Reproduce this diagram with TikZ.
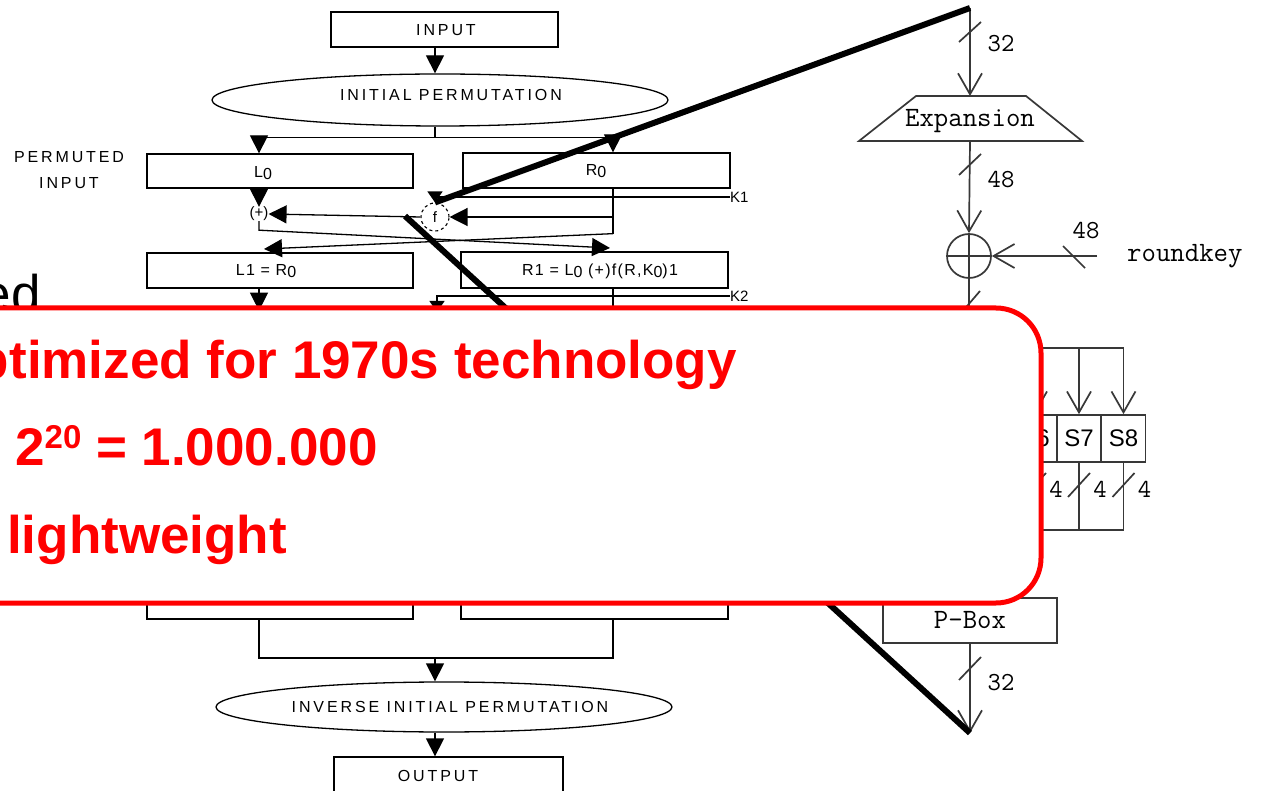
\documentclass[tikz,border=0pt]{standalone}
\usepackage{fontspec}
\setmainfont{Liberation Sans}
\newfontfamily\dfont[LetterSpace=18]{Liberation Sans}
\newfontfamily\efont[LetterSpace=8]{Liberation Sans}
\usetikzlibrary{arrows.meta,shapes.geometric}
\newcommand\lowo[1]{\raisebox{-2.5pt}{#1}}
\begin{document}
\begin{tikzpicture}[x=1pt,y=-1pt,
  lw/.style={line width=1.3pt},
  box/.style={draw,line width=1.3pt,inner sep=0pt},
  dtext/.style={font=\dfont\fontsize{16}{26}\selectfont,inner sep=0pt},
  etext/.style={font=\efont\fontsize{16}{20}\selectfont,inner sep=0pt},
  ktext/.style={font=\fontsize{15}{17}\selectfont,inner sep=0pt},
  tri/.style={line width=1.3pt,-{Triangle[width=18pt,length=18pt]}},
  trism/.style={line width=1.3pt,-{Triangle[width=15pt,length=11pt]}},
  rl/.style={draw=black!78,line width=1.7pt},
  vv/.style={rl,-{Straight Barb[length=21pt,width=24pt]}},
  mono/.style={font=\ttfamily\fontsize{28}{30}\selectfont,inner sep=0pt},
  num/.style={font=\ttfamily\fontsize{26}{28}\selectfont,inner sep=0pt},
  sbox/.style={rl,inner sep=0pt,minimum width=44pt,minimum height=47pt,font=\fontsize{24}{26}\selectfont},
  zoomline/.style={line width=6pt},
  redtxt/.style={text=red,font=\bfseries\fontsize{53}{60}\selectfont,inner sep=0pt},
]
\useasboundingbox (0,0) rectangle (1264,791);
\clip (0,0) rectangle (1264,791);
\fill[white] (0,0) rectangle (1264,791);

% ---------- guides ----------
\coordinate (cx) at (435,0);
\coordinate (lx) at (259,0);
\coordinate (rx) at (613,0);

% ---------- left flowchart ----------
\node[box,minimum width=227pt,minimum height=35pt] (in) at (444.5,29.5) {};
\node[dtext] (intxt) at (446,30) {INPUT};
\node[box,ellipse,minimum width=456pt,minimum height=52pt] (ip) at (440,100) {};
\node[dtext] (iptxt) at (451,95) {INITIAL PERMUTATION};
\draw[tri] (in.south -| cx) -- (ip.north -| cx);
\draw[lw] (ip.south -| cx) -- ++(0,11) coordinate (split);
\draw[lw] (lx |- split) -- (rx |- split);

\node[dtext,align=center] (pin) at (69,170) {PERMUTED\\INPUT};

\node[box,minimum width=266pt,minimum height=34pt] (L0) at (280,171) {};
\node[etext] (L0t) at (263,173) {L\lowo{0}};
\node[box,minimum width=267pt,minimum height=35pt] (R0) at (596.5,170.5) {};
\node[etext] (R0t) at (596,171) {R\lowo{0}};
\draw[tri] (lx |- split) -- (L0.north -| lx);
\draw[tri] (rx |- split) -- (R0.north -| rx);

\node[ktext] (plus) at (259,214) {(+)};
\node[draw,circle,dashed,line width=1.1pt,minimum size=28pt,inner sep=0pt,font=\fontsize{15}{17}\selectfont] (f) at (435,217) {f};
\draw[tri] (L0.south -| lx) -- (plus.north);
\draw[tri] (f.west) -- (plus.east);
\draw[lw] (R0.south -| rx) -- ++(0,45) coordinate (rc);
\draw[tri] (rx |- f) -- (f.east);
\node[ktext,anchor=west] (k1) at (730,197) {K1};
\draw[trism] (k1.west) -| (f.north);

\coordinate (aR) at (610,248);
\coordinate (aL) at (264,249);
\draw[tri] (plus.south) -- ++(0,9) -- (aR);
\draw[tri] (rc) -- (aL);

\node[box,minimum width=266pt,minimum height=35pt] (L1) at (280,270.5) {};
\node[etext] (L1t) at (266,271) {L1 = R\lowo{0}};
\node[box,minimum width=267pt,minimum height=36pt] (R1) at (594.5,270) {};
\node[etext] (R1t) at (600,271) {R1 = L\lowo{0} (+)f(R,K\lowo{0})1};
\draw[tri] (L1.south -| lx) -- ++(0,22);
\node[ktext,anchor=west] (k2) at (730,296) {K2};
\coordinate (k2end) at (437,312);
\draw[trism] (k2.west) -| (k2end);
\draw[lw] (R1.south -| rx) -- ++(0,30);

% bottom part
\node[box,minimum width=266pt,minimum height=40pt] (L16) at (280,599) {};
\node[box,minimum width=267pt,minimum height=40pt] (R16) at (594.5,599) {};
\coordinate (jn) at (435,658);
\draw[lw] (L16.south -| lx) -- (lx |- jn) -- (rx |- jn) -- (R16.south -| rx);
\node[box,ellipse,minimum width=456pt,minimum height=50pt] (iip) at (444,707) {};
\node[dtext] (iiptxt) at (450,707) {INVERSE INITIAL PERMUTATION};
\draw[tri] (jn) -- (iip.north -| cx);
\node[box,minimum width=229pt,minimum height=44pt] (out) at (448.5,779) {};
\node[dtext] (outtxt) at (438,776) {OUTPUT};
\draw[tri] (iip.south -| cx) -- (out.north -| cx);

% ---------- right detail ----------
\coordinate (t0) at (970,8);
\coordinate (expT) at (970,96);
\coordinate (expB) at (970,141);
\draw[rl] (916,96) -- (1026,96) -- (1082,141) -- (859,141) -- cycle;
\node[mono] (exp) at (970,121) {Expansion};
\draw[vv] (t0) -- (expT);
\draw[rl] (959,42) -- (981,22);
\node[num] (n32a) at (1001,44) {32};

\node[rl,circle,minimum size=44pt,inner sep=0pt] (xor) at (969,256) {};
\draw[rl] (xor.north) -- (xor.south) (xor.west) -- (xor.east);
\draw[vv] (expB) -- (xor.north);
\draw[rl] (959,175) -- (981,154);
\node[num] (n48a) at (1001,180) {48};
\coordinate (rkS) at (1097,256);
\draw[vv] (rkS) -- (xor.east);
\draw[rl] (1063,246) -- (1085,268);
\node[num] (n48b) at (1086,231) {48};
\node[mono,anchor=west] (rk) at (1127,256) {roundkey};
\draw[rl,line width=2.6pt] (xor.south) -- ++(0,60);
\draw[rl] (956,319) -- (980,291);

\coordinate (dist) at (1123.5,348);
\draw[rl] (800,348) -- (dist);
\node[sbox] (s6) at (1035,438.5) {S6};
\node[sbox] (s7) at (1079,438.5) {S7};
\node[sbox] (s8) at (1123.5,438.5) {S8};
\draw[vv] (s6.north |- dist) -- (s6.north);
\draw[vv] (s7.north |- dist) -- (s7.north);
\draw[vv] (dist) -- (s8.north);
\coordinate (coll) at (1123.5,530);
\draw[rl] (s8.south) -- (coll) -- (800,530);
\draw[rl] (s7.south) -- (s7.south |- coll);
\draw[rl] (s6.south) -- (s6.south |- coll);
\foreach \xx in {1035,1079,1123.5}{
  \draw[rl] (\xx-11,497) -- (\xx+11,473);
  \node[num] at (\xx+21,489) {4};
}

\node[rl,minimum width=174pt,minimum height=45pt,mono] (pbox) at (970,620.5) {P-Box};
\coordinate (pend) at (970,733);
\draw[vv] (pbox.south) -- (pend);
\draw[rl] (959,680) -- (981,657);
\node[num] (n32b) at (1001,683) {32};

% ---------- zoom lines ----------
\coordinate (zs) at (405,216);
\draw[zoomline] (t0) -- (f.north);
\draw[zoomline] (zs) -- (pend);

% ---------- slide text and callout ----------
\node[font=\fontsize{53}{60}\selectfont,anchor=base east,inner sep=0pt] (ed) at (41,313) {ed};
\draw[red,line width=5pt,fill=white,rounded corners=45pt] (-60,308) rectangle (1041,603);
\node[redtxt,anchor=base east] (t1) at (737,379) {optimized for 1970s technology};
\node[redtxt,anchor=base west] (t2) at (15,465) {2\raisebox{17pt}{\fontsize{33}{33}\selectfont 20} = 1.000.000};
\node[redtxt,anchor=base west] (t3) at (7,553) {lightweight};
\end{tikzpicture}
\end{document}
